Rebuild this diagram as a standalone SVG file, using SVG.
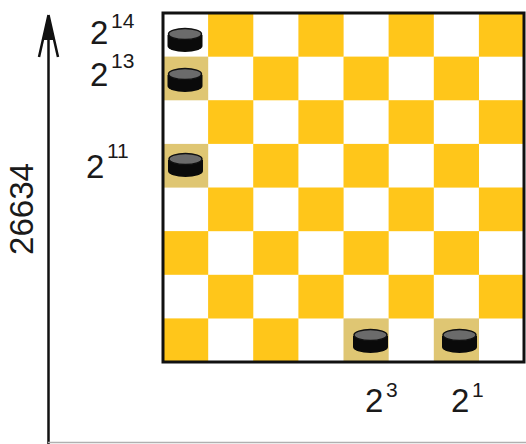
<svg xmlns="http://www.w3.org/2000/svg" xmlns:xlink="http://www.w3.org/1999/xlink" width="526" height="444" viewBox="0 0 526 444">
<style>
.y{fill:#FFC61A}
.t{fill:#DFC673}
.lbl{font-family:"Liberation Sans",Arial,sans-serif;fill:#1a1a1a}
.b{font-size:33px}
.s{font-size:21px}
.ax{stroke:#111;stroke-width:2.5;fill:none}
</style>
<defs>
<g id="checker">
<path d="M-17.5,-5 L-17.5,6 A17.5,6 0 0 0 17.5,6 L17.5,-5 Z" fill="#0a0a0a"/>
<ellipse cx="0" cy="-6" rx="16.5" ry="5.5" fill="#6b6b6b" stroke="#111" stroke-width="1.5"/>
</g>
</defs>
<rect width="526" height="444" fill="#fff"/>
<g id="connectors">
<line class="ax" x1="48.5" y1="444" x2="48.5" y2="20"/>
<path d="M48.5,15 L39,57 M48.5,15 L58,57" class="ax" stroke-width="2"/>
<path d="M48.5,15 L43.5,40 L53.5,40 Z" fill="#111"/>
<line x1="48" y1="442.5" x2="526" y2="442.5" stroke="#b0b0b0" stroke-width="1.5"/>
</g>
<g id="board">
<rect x="163" y="13" width="361" height="349" fill="#fff"/>
<rect class="y" x="208.1" y="13" width="45.2" height="43.7"/>
<rect class="y" x="298.4" y="13" width="45.2" height="43.7"/>
<rect class="y" x="388.6" y="13" width="45.2" height="43.7"/>
<rect class="y" x="478.9" y="13" width="45.2" height="43.7"/>
<rect class="t" x="163" y="56.6" width="45.2" height="43.7"/>
<rect class="y" x="253.2" y="56.6" width="45.2" height="43.7"/>
<rect class="y" x="343.5" y="56.6" width="45.2" height="43.7"/>
<rect class="y" x="433.8" y="56.6" width="45.2" height="43.7"/>
<rect class="y" x="208.1" y="100.2" width="45.2" height="43.7"/>
<rect class="y" x="298.4" y="100.2" width="45.2" height="43.7"/>
<rect class="y" x="388.6" y="100.2" width="45.2" height="43.7"/>
<rect class="y" x="478.9" y="100.2" width="45.2" height="43.7"/>
<rect class="t" x="163" y="143.9" width="45.2" height="43.7"/>
<rect class="y" x="253.2" y="143.9" width="45.2" height="43.7"/>
<rect class="y" x="343.5" y="143.9" width="45.2" height="43.7"/>
<rect class="y" x="433.8" y="143.9" width="45.2" height="43.7"/>
<rect class="y" x="208.1" y="187.5" width="45.2" height="43.7"/>
<rect class="y" x="298.4" y="187.5" width="45.2" height="43.7"/>
<rect class="y" x="388.6" y="187.5" width="45.2" height="43.7"/>
<rect class="y" x="478.9" y="187.5" width="45.2" height="43.7"/>
<rect class="y" x="163" y="231.1" width="45.2" height="43.7"/>
<rect class="y" x="253.2" y="231.1" width="45.2" height="43.7"/>
<rect class="y" x="343.5" y="231.1" width="45.2" height="43.7"/>
<rect class="y" x="433.8" y="231.1" width="45.2" height="43.7"/>
<rect class="y" x="208.1" y="274.8" width="45.2" height="43.7"/>
<rect class="y" x="298.4" y="274.8" width="45.2" height="43.7"/>
<rect class="y" x="388.6" y="274.8" width="45.2" height="43.7"/>
<rect class="y" x="478.9" y="274.8" width="45.2" height="43.7"/>
<rect class="y" x="163" y="318.4" width="45.2" height="43.6"/>
<rect class="y" x="253.2" y="318.4" width="45.2" height="43.6"/>
<rect class="t" x="343.5" y="318.4" width="45.2" height="43.6"/>
<rect class="t" x="433.8" y="318.4" width="45.2" height="43.6"/>
<rect x="163" y="13" width="361" height="349" fill="none" stroke="#111" stroke-width="3"/>
</g>
<g id="piece-r0"><use xlink:href="#checker" x="185" y="40"/></g>
<g id="piece-r1"><use xlink:href="#checker" x="185" y="80"/></g>
<g id="piece-r3"><use xlink:href="#checker" x="185.5" y="165"/></g>
<g id="piece-c4"><use xlink:href="#checker" x="370.5" y="341"/></g>
<g id="piece-c6"><use xlink:href="#checker" x="459.5" y="341"/></g>
<g id="labels" class="lbl">
<text class="b" x="90" y="44">2</text><text class="s" x="111" y="28">14</text>
<text class="b" x="90" y="86">2</text><text class="s" x="111" y="68">13</text>
<text class="b" x="86" y="178">2</text><text class="s" x="107" y="158">11</text>
<text class="b" x="365" y="412">2</text><text class="s" x="386" y="397">3</text>
<text class="b" x="451" y="412">2</text><text class="s" x="472" y="397">1</text>
<text class="b" x="33" y="209" text-anchor="middle" transform="rotate(-90 33 209)">26634</text>
</g>
</svg>
